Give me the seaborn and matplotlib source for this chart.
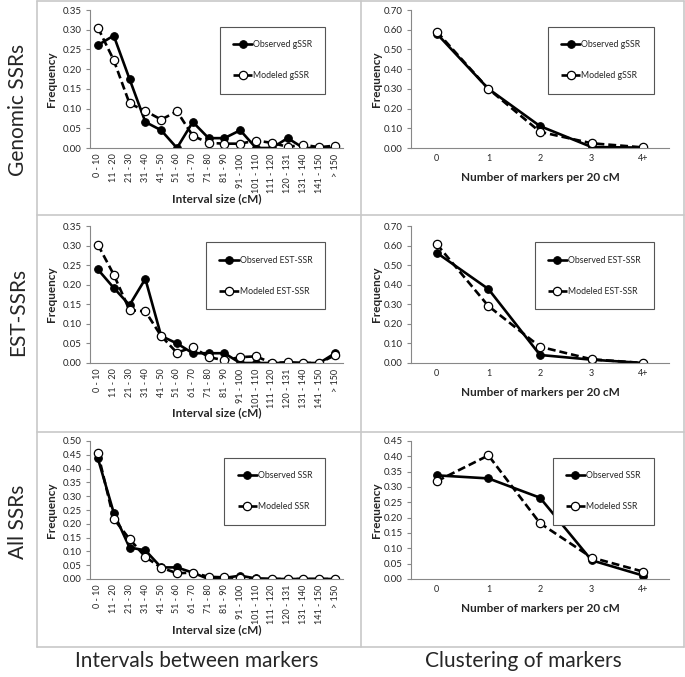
import matplotlib
matplotlib.use("Agg")
import matplotlib.pyplot as plt
from matplotlib.lines import Line2D
from matplotlib.ticker import MultipleLocator, FormatStrFormatter
import seaborn as sns
import numpy as np

# interval bins (the "120 - 131" label is as printed in the original)
interval_bins = ["0 - 10", "11 - 20", "21 - 30", "31 - 40", "41 - 50", "51 - 60",
                 "61 - 70", "71 - 80", "81 - 90", "91 - 100", "101 - 110",
                 "111 - 120", "120 - 131", "131 - 140", "141 - 150", "> 150"]
cluster_bins = ["0", "1", "2", "3", "4+"]

# genomic SSRs
gssr_int_obs = [0.261, 0.285, 0.175, 0.066, 0.045, 0.0, 0.066, 0.025, 0.025, 0.045,
                0.0, 0.0, 0.025, 0.0, 0.0, 0.0]
gssr_int_mod = [0.305, 0.223, 0.113, 0.094, 0.072, 0.093, 0.031, 0.013, 0.011, 0.011,
                0.019, 0.013, 0.003, 0.008, 0.002, 0.006]
gssr_clu_obs = [0.58, 0.30, 0.111, 0.005, 0.002]
gssr_clu_mod = [0.59, 0.30, 0.082, 0.024, 0.003]

# EST-SSRs
est_int_obs = [0.239, 0.192, 0.148, 0.215, 0.069, 0.050, 0.025, 0.025, 0.025, 0.0,
               0.0, 0.0, 0.0, 0.0, 0.0, 0.025]
est_int_mod = [0.302, 0.226, 0.135, 0.132, 0.069, 0.026, 0.041, 0.015, 0.007, 0.015,
               0.017, 0.0, 0.002, 0.0, 0.0, 0.020]
est_clu_obs = [0.563, 0.378, 0.041, 0.017, 0.0]
est_clu_mod = [0.607, 0.291, 0.083, 0.019, 0.0]

# all SSRs
all_int_obs = [0.437, 0.240, 0.114, 0.104, 0.042, 0.042, 0.023, 0.0, 0.004, 0.012,
               0.002, 0.0, 0.0, 0.0, 0.0, 0.0]
all_int_mod = [0.456, 0.218, 0.145, 0.080, 0.041, 0.021, 0.023, 0.008, 0.006, 0.004,
               0.001, 0.0, 0.0, 0.0, 0.0, 0.0]
all_clu_obs = [0.338, 0.328, 0.265, 0.061, 0.011]
all_clu_mod = [0.319, 0.403, 0.182, 0.070, 0.024]

row_names = ["Genomic SSRs", "EST-SSRs", "All SSRs"]
col_names = ["Intervals between markers", "Clustering of markers"]

sns.set_style("white")
plt.rcParams['font.family'] = ['Lato', 'DejaVu Sans']

W, H = 685, 677
fig = plt.figure(figsize=(W / 100, H / 100), dpi=100)


def px_axes(left, right, top, bottom):
    return fig.add_axes([left / W, 1 - bottom / H, (right - left) / W, (bottom - top) / H])


def panel(ax, cats, obs, mod, name, ymax, ystep, xlabel, rotate, leg_right):
    sns.lineplot(x=cats, y=obs, ax=ax, sort=False, color="black", lw=1.9,
                 marker="o", ms=5.5, mfc="black", mec="black", label="Observed " + name)
    sns.lineplot(x=cats, y=mod, ax=ax, sort=False, color="black", lw=1.9, ls=(0, (3, 1.5)),
                 marker="o", ms=6, mfc="white", mec="black", mew=0.9, label="Modeled " + name)
    n = len(cats)
    ax.set_xlim(-0.5, n - 0.5)
    ax.set_ylim(0, ymax)
    ax.yaxis.set_major_locator(MultipleLocator(ystep))
    ax.yaxis.set_major_formatter(FormatStrFormatter("%.2f"))
    ax.set_xticks(np.arange(-0.5, n, 1), minor=True)
    ax.tick_params(axis="x", which="major", length=0, labelsize=6.5, pad=4,
                   labelrotation=90 if rotate else 0)
    ax.tick_params(axis="x", which="minor", length=3, color="#888888", direction="out")
    ax.tick_params(axis="y", length=3, color="#888888", direction="out", labelsize=7, pad=3)
    ax.tick_params(bottom=True, left=True)
    for s in ["top", "right"]:
        ax.spines[s].set_visible(False)
    for s in ["left", "bottom"]:
        ax.spines[s].set_color("#888888")
        ax.spines[s].set_linewidth(0.8)
    ax.set_xlabel(xlabel, fontsize=8.5, fontweight="bold")
    ax.set_ylabel("Frequency", fontsize=8.5, fontweight="bold")
    leg = ax.legend(loc="upper right", bbox_to_anchor=(leg_right, 0.88), fontsize=6.3,
                    handlelength=2.2, labelspacing=2.6, borderpad=1.5, handletextpad=0.1,
                    borderaxespad=0, fancybox=False, frameon=True, framealpha=1)
    leg.get_frame().set_edgecolor("#555555")
    leg.get_frame().set_linewidth(0.8)


rows = [
    (gssr_int_obs, gssr_int_mod, gssr_clu_obs, gssr_clu_mod, "gSSR", 0.35, 0.70, 0.10),
    (est_int_obs, est_int_mod, est_clu_obs, est_clu_mod, "EST-SSR", 0.35, 0.70, 0.10),
    (all_int_obs, all_int_mod, all_clu_obs, all_clu_mod, "SSR", 0.50, 0.45, 0.05),
]
tops = [10, 226, 441]
bottoms = [148, 363, 579]

for i, (io, im, co, cm, name, ymax_i, ymax_c, step_c) in enumerate(rows):
    axl = px_axes(90, 343, tops[i], bottoms[i])
    panel(axl, interval_bins, io, im, name, ymax_i, 0.05, "Interval size (cM)", True, 0.93)
    axl.yaxis.set_label_coords(-0.13, 0.5)
    axl.xaxis.set_label_coords(0.5, -(193 - 148) / 138)
    axr = px_axes(411, 669, tops[i], bottoms[i])
    panel(axr, cluster_bins, co, cm, name, ymax_c, step_c, "Number of markers per 20 cM",
          False, 0.94)
    axr.yaxis.set_label_coords(-0.112, 0.5)
    axr.xaxis.set_label_coords(0.5, -(171 - 147) / 137)

# table grid
grid_kw = dict(color="#c8c8c8", lw=1.2, transform=fig.transFigure)
for y in [1, 215, 432, 647]:
    fig.add_artist(Line2D([37 / W, 684 / W], [1 - y / H, 1 - y / H], **grid_kw))
for x in [37, 361, 684]:
    fig.add_artist(Line2D([x / W, x / W], [1 - 1 / H, 1 - 647 / H], **grid_kw))

for name, yc in zip(row_names, [110, 312, 522]):
    fig.text(18 / W, 1 - yc / H, name, rotation=90, ha="center", va="center", fontsize=15)
for name, xc in zip(col_names, [197, 523]):
    fig.text(xc / W, 1 - 661 / H, name, ha="center", va="center", fontsize=15)

fig.savefig("out.png", dpi=100)
